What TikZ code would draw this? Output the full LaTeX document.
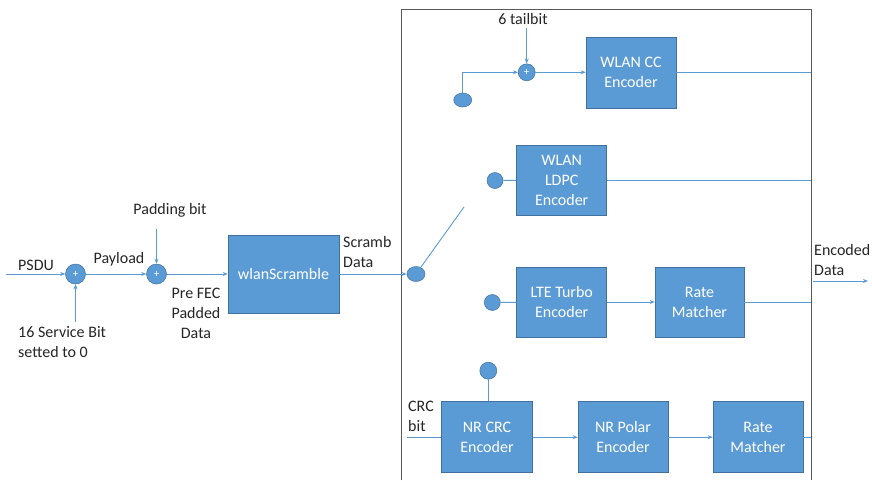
\documentclass[tikz,border=0pt]{standalone}
\usepackage{fontspec}
\setmainfont{Carlito}
\usetikzlibrary{arrows.meta,shapes.geometric}
\definecolor{blu}{HTML}{5B9BD5}
\definecolor{bord}{HTML}{41719C}
\definecolor{frm}{HTML}{595959}
\definecolor{txt}{HTML}{262626}
\begin{document}
\begin{tikzpicture}[x=1pt,y=-1pt, font=\fontsize{16}{20}\selectfont,
 blk/.style={draw=bord, fill=blu, text=white, minimum width=90pt, minimum height=71pt, align=center, inner sep=0pt, line width=0.6pt},
 dot/.style={circle, draw=bord, fill=blu, minimum size=16pt, inner sep=0pt, line width=0.5pt},
 oval/.style={ellipse, draw=bord, fill=blu, minimum width=18pt, minimum height=15pt, inner sep=0pt, line width=0.5pt},
 adder/.style={circle, draw=bord, fill=blu, minimum size=20pt, inner sep=0pt, text=white, font=\fontsize{11}{11}\selectfont, line width=0.5pt},
 con/.style={draw=blu, line width=0.9pt},
 arr/.style={con, -{Stealth[length=5pt,width=4pt]}},
 lbl/.style={text=txt, inner sep=0pt}]
\useasboundingbox (0,0) rectangle (872,480);
\fill[white] (0,0) rectangle (872,480);
\draw[frm, line width=0.8pt] (401,480) -- (401,9) -- (811,9) -- (811,480);

% left chain
\node[adder] (a1) at (75.5,274) {+};
\node[adder] (a2) at (156.5,274) {+};
\node[blk, minimum width=111pt, minimum height=78pt] (scr) at (283.5,274) {wlanScramble};
\node[oval] (sw) at (416,274) {};
\coordinate (psdustart) at (6,274);
\coordinate (svc) at (75.5,322);
\coordinate (pad) at (156.5,229);
\coordinate (swtip) at (464,207);
\draw[arr] (psdustart) -- (a1);
\draw[arr] (svc) -- (a1);
\draw[arr] (a1) -- (a2);
\draw[arr] (pad) -- (a2);
\draw[arr] (a2) -- (scr);
\draw[arr] (scr) -- (sw);
\draw[con] (sw) -- (swtip);

\node[lbl, anchor=west] (psdu) at (18,265) {PSDU};
\node[lbl] (payload) at (119,259) {Payload};
\node[lbl] (padbit) at (170,210) {Padding bit};
\node[lbl, anchor=west, align=left] (service) at (18,342.5) {16 Service Bit\\setted to 0};
\node[lbl, align=center] (prefec) at (196,313) {Pre FEC\\Padded\\Data};
\node[lbl, anchor=west, align=left] (scramb) at (343,252) {Scramb\\Data};

% WLAN CC branch
\node[oval, minimum height=14pt] (ccin) at (462.7,100) {};
\node[adder, minimum size=17pt] (a3) at (526.7,72.3) {+};
\node[blk] (cc) at (631,72.3) {WLAN CC\\Encoder};
\coordinate (tail) at (526.7,28);
\coordinate (ccout) at (811,72.3);
\draw[arr] (ccin.north) |- (a3);
\draw[arr] (tail) -- (a3);
\draw[arr] (a3) -- (cc);
\draw[con] (cc) -- (ccout);
\node[lbl] (tailbit) at (523,19) {6 tailbit};

% LDPC branch
\node[dot] (ldin) at (495,180.5) {};
\node[blk, minimum height=70pt] (ldpc) at (561.7,180) {WLAN\\LDPC\\Encoder};
\coordinate (ldout) at (811,180);
\draw[con] (ldin) -- (ldpc);
\draw[con] (ldpc.east) -- (ldout);

% Turbo branch
\node[dot] (tin) at (492.3,302.5) {};
\node[blk, minimum height=70pt] (turbo) at (561.7,302) {LTE Turbo\\Encoder};
\node[blk, minimum width=89pt, minimum height=70pt] (rm1) at (699.5,302) {Rate\\Matcher};
\coordinate (rm1out) at (811,302);
\draw[con] (tin) -- (turbo);
\draw[arr] (turbo) -- (rm1);
\draw[con] (rm1) -- (rm1out);
\coordinate (encA) at (813,281);
\coordinate (encB) at (868,281);
\draw[arr] (encA) -- (encB);
\node[lbl, anchor=west, align=left] (encoded) at (814,260) {Encoded\\Data};

% NR branch
\node[dot, minimum size=17pt] (crcin) at (488.3,370.7) {};
\node[blk, minimum width=90.6pt] (crc) at (487,437.2) {NR CRC\\Encoder};
\node[blk] (polar) at (623,437.2) {NR Polar\\Encoder};
\node[blk] (rm2) at (758,437.2) {Rate\\Matcher};
\coordinate (crcbit) at (407,437.2);
\coordinate (rm2out) at (811,437.2);
\draw[con] (crcin) -- (crcin |- crc.north);
\draw[con] (crcbit) -- (crc);
\draw[arr] (crc) -- (polar);
\draw[arr] (polar) -- (rm2);
\draw[con] (rm2) -- (rm2out);
\node[lbl, anchor=west, align=left] (crclbl) at (408,416.5) {CRC\\bit};
\end{tikzpicture}
\end{document}
